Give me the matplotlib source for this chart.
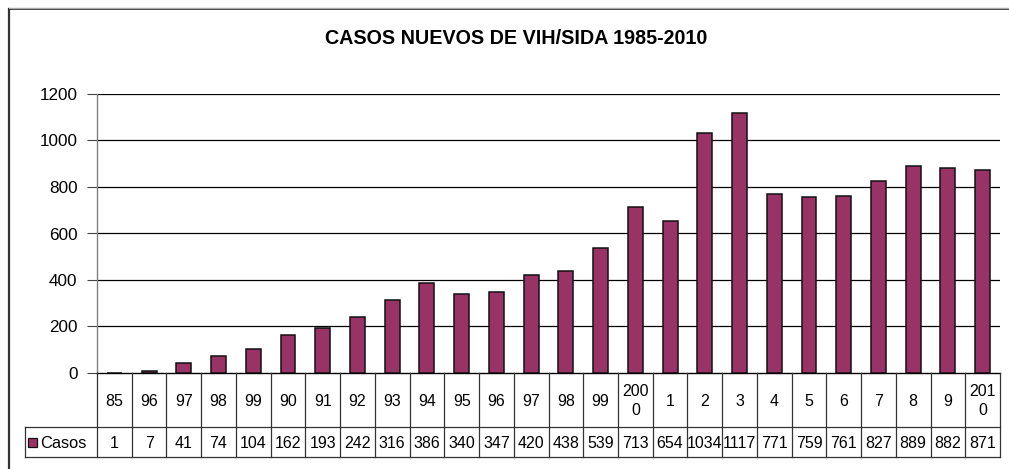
import matplotlib
matplotlib.use("Agg")
import matplotlib.pyplot as plt
import matplotlib.transforms as mtransforms
from matplotlib.patches import Rectangle
from matplotlib.lines import Line2D

plt.rcParams['font.family'] = ['Liberation Sans', 'DejaVu Sans']

title = "CASOS NUEVOS DE VIH/SIDA 1985-2010"
categories = ["85", "96", "97", "98", "99", "90", "91", "92", "93", "94", "95", "96", "97",
              "98", "99", "200\n0", "1", "2", "3", "4", "5", "6", "7", "8", "9", "201\n0"]
casos = [1, 7, 41, 74, 104, 162, 193, 242, 316, 386, 340, 347, 420, 438, 539, 713,
         654, 1034, 1117, 771, 759, 761, 827, 889, 882, 871]
series_name = "Casos"
yticks = [0, 200, 400, 600, 800, 1000, 1200]

W, H = 1009, 469
fig = plt.figure(figsize=(W / 100, H / 100), dpi=100)
fig.patch.set_facecolor("white")

def fx(px):
    return px / W

def fy(py):
    return 1 - py / H

ax_left, ax_right, ax_top, ax_bot = 97, 1000, 94, 373
ax = fig.add_axes([fx(ax_left), fy(ax_bot), fx(ax_right - ax_left), fy(ax_top) - fy(ax_bot)])
n = len(casos)
x = list(range(n))
bar_color = "#993366"
ax.bar(x, casos, width=0.43, color=bar_color, edgecolor="#111111", linewidth=1.1, zorder=3)
ax.set_xlim(-0.5, n - 0.5)
ax.set_ylim(0, 1200)
ax.set_yticks(yticks)
ax.set_yticklabels([str(t) for t in yticks], fontsize=12.3)
ax.tick_params(axis='y', length=7, width=0.8, color="#444444", pad=7)
ax.set_xticks([])
for yv in yticks[1:]:
    ax.axhline(yv, color="black", linewidth=0.9, zorder=1)
for s in ["top", "right"]:
    ax.spines[s].set_visible(False)
ax.spines["left"].set_color("#808080")
ax.spines["left"].set_linewidth(1.0)
ax.spines["bottom"].set_color("black")
ax.spines["bottom"].set_linewidth(1.0)

# Title
fig.text(fx(516), fy(38), title, fontsize=14.2, fontweight="bold", ha="center", va="center")

# Data table below the axes
trans = mtransforms.blended_transform_factory(ax.transData, fig.transFigure)
row1_top, row1_bot, row2_bot = 373, 427, 457
tcol = "#333333"
lw = 0.9
for i in range(n + 1):
    xe = i - 0.5
    fig.add_artist(Line2D([xe, xe], [fy(row1_top), fy(row2_bot)], transform=trans,
                          color=tcol, linewidth=lw))
fig.add_artist(Line2D([fx(25), fx(ax_right)], [fy(row1_bot), fy(row1_bot)],
                      transform=fig.transFigure, color=tcol, linewidth=lw))
fig.add_artist(Line2D([fx(25), fx(ax_right)], [fy(row2_bot), fy(row2_bot)],
                      transform=fig.transFigure, color=tcol, linewidth=lw))
fig.add_artist(Line2D([fx(25), fx(25)], [fy(row1_bot), fy(row2_bot)],
                      transform=fig.transFigure, color=tcol, linewidth=lw))

for i, (c, v) in enumerate(zip(categories, casos)):
    fig.text(i, fy((row1_top + row1_bot) / 2 + 1), c, transform=trans, ha="center", va="center",
             fontsize=11.5, linespacing=1.3)
    fig.text(i, fy((row1_bot + row2_bot) / 2 + 1), str(v), transform=trans, ha="center", va="center",
             fontsize=11.5)

# legend key in table
fig.add_artist(Rectangle((fx(28), fy(447)), fx(9), fy(438) - fy(447), transform=fig.transFigure,
                         facecolor=bar_color, edgecolor="#111111", linewidth=0.9))
fig.text(fx(40), fy((row1_bot + row2_bot) / 2 + 1), series_name, ha="left", va="center", fontsize=11.8)

# outer chart border (cropped)
fig.add_artist(Line2D([fx(9), fx(9)], [fy(9), 0], transform=fig.transFigure,
                      color="#333333", linewidth=1.6))
fig.add_artist(Line2D([fx(9), 1], [fy(9), fy(9)], transform=fig.transFigure,
                      color="#111111", linewidth=1.2))
fig.add_artist(Line2D([fx(9), 1], [fy(8), fy(8)], transform=fig.transFigure,
                      color="#aaaaaa", linewidth=1.0))

fig.savefig("out.png", dpi=100, facecolor="white")
